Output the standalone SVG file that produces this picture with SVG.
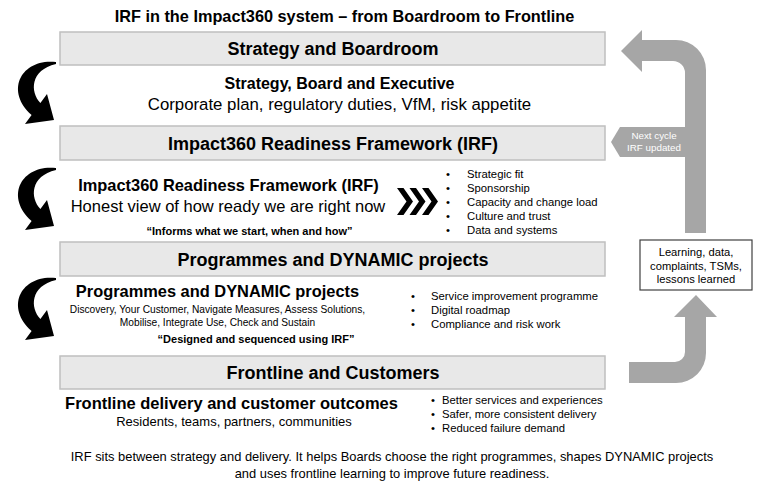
<svg xmlns="http://www.w3.org/2000/svg" width="768" height="492" viewBox="0 0 768 492">
<style>
text{font-family:"Liberation Sans",Arial,sans-serif;fill:#000}
.b{font-weight:bold}
.c{text-anchor:middle}
.bar{fill:#e8e8e8;stroke:#bfbfbf;stroke-width:1.5}
.bt{font-size:18px;font-weight:bold;text-anchor:middle}
.li{font-size:11.3px}
.gr{fill:#a6a6a6}
.blk{fill:#000}
</style>
<defs>
<path id="curl" d="M56,62 C22,58 4,90 31.6,115 L25,124 L54,120 L47,94 L40.4,103 C30,92 30,70 56,64 Z"/>
<polygon id="chev" points="0,188 6.5,188 16,201.5 6.5,215 0,215 9.5,201.5"/>
</defs>
<rect width="768" height="492" fill="#fff"/>
<text id="title" class="b c" x="344.5" y="22" font-size="16.3">IRF in the Impact360 system – from Boardroom to Frontline</text>

<g id="connectors">
<use href="#curl" class="blk"/>
<use href="#curl" class="blk" transform="translate(0,106)"/>
<use href="#curl" class="blk" transform="translate(0,216)"/>
<g id="chevrons" class="blk">
<use href="#chev" x="397"/>
<use href="#chev" x="409.5"/>
<use href="#chev" x="422"/>
</g>
<path id="loop-top" class="gr" d="M706,233 L706,70 A30,30 0 0 0 676,40 L642,40 L642,30 L621,51 L642,72 L642,61 L673,61 A12,12 0 0 1 685,73 L685,233 Z"/>
<path id="loop-bottom" class="gr" d="M629,362 L675,362 A10,10 0 0 0 685,352 L685,317 L674,317 L696,295 L717,317 L706,317 L706,353 A30,30 0 0 1 676,383 L629,383 Z"/>
</g>

<g id="strategy-bar">
<rect class="bar" x="60" y="32" width="545" height="33"/>
<text class="bt" x="333" y="55">Strategy and Boardroom</text>
</g>
<g id="strategy-detail">
<text class="b c" x="339.5" y="89" font-size="16">Strategy, Board and Executive</text>
<text class="c" x="339.5" y="110" font-size="16.8">Corporate plan, regulatory duties, VfM, risk appetite</text>
</g>

<g id="irf-bar">
<rect class="bar" x="60" y="126" width="545" height="34"/>
<text class="bt" x="333" y="149.5">Impact360 Readiness Framework (IRF)</text>
</g>
<g id="irf-detail">
<text class="b c" x="228.5" y="191" font-size="16.4">Impact360 Readiness Framework (IRF)</text>
<text class="c" x="228" y="212" font-size="16.5">Honest view of how ready we are right now</text>
<text class="b c" x="249.5" y="235" font-size="11">“Informs what we start, when and how”</text>
</g>
<g id="irf-list" class="li">
<text class="c" x="448" y="178">•</text><text x="467" y="178">Strategic fit</text>
<text class="c" x="448" y="192">•</text><text x="467" y="192">Sponsorship</text>
<text class="c" x="448" y="206">•</text><text x="467" y="206">Capacity and change load</text>
<text class="c" x="448" y="220">•</text><text x="467" y="220">Culture and trust</text>
<text class="c" x="448" y="234">•</text><text x="467" y="234">Data and systems</text>
</g>

<g id="programmes-bar">
<rect class="bar" x="60" y="242" width="545" height="34"/>
<text class="bt" x="333" y="265.5">Programmes and DYNAMIC projects</text>
</g>
<g id="programmes-detail">
<text class="b c" x="217.5" y="297" font-size="16.4">Programmes and DYNAMIC projects</text>
<text class="c" x="217.5" y="313" font-size="10.2">Discovery, Your Customer, Navigate Measures, Assess Solutions,</text>
<text class="c" x="217.5" y="326" font-size="10.2">Mobilise, Integrate Use, Check and Sustain</text>
<text class="b c" x="256" y="343" font-size="11">“Designed and sequenced using IRF”</text>
</g>
<g id="programmes-list" class="li">
<text class="c" x="413" y="300">•</text><text x="431" y="300">Service improvement programme</text>
<text class="c" x="413" y="314">•</text><text x="431" y="314">Digital roadmap</text>
<text class="c" x="413" y="328">•</text><text x="431" y="328">Compliance and risk work</text>
</g>

<g id="frontline-bar">
<rect class="bar" x="60" y="356" width="545" height="33"/>
<text class="bt" x="333" y="379">Frontline and Customers</text>
</g>
<g id="frontline-detail">
<text class="b c" x="231.5" y="409" font-size="16.5">Frontline delivery and customer outcomes</text>
<text class="c" x="234" y="426" font-size="13">Residents, teams, partners, communities</text>
</g>
<g id="frontline-list" class="li">
<text class="c" x="433" y="404">•</text><text x="442" y="404">Better services and experiences</text>
<text class="c" x="433" y="418">•</text><text x="442" y="418">Safer, more consistent delivery</text>
<text class="c" x="433" y="432">•</text><text x="442" y="432">Reduced failure demand</text>
</g>

<g id="next-cycle">
<polygon class="gr" points="611,142 620,127 686,127 686,157 620,157"/>
<text class="c" x="654" y="139" font-size="9.8" style="fill:#fff">Next cycle</text>
<text class="c" x="654" y="151" font-size="9.8" style="fill:#fff">IRF updated</text>
</g>

<g id="learning-box">
<rect x="640" y="240" width="112" height="50" fill="#fff" stroke="#404040" stroke-width="1.2"/>
<text class="c" x="696" y="256" font-size="11.2">Learning, data,</text>
<text class="c" x="696" y="269.5" font-size="11.2">complaints, TSMs,</text>
<text class="c" x="696" y="283" font-size="11.2">lessons learned</text>
</g>

<g id="footer">
<text class="c" x="392" y="461" font-size="12.9">IRF sits between strategy and delivery. It helps Boards choose the right programmes, shapes DYNAMIC projects</text>
<text class="c" x="392" y="478" font-size="12.9">and uses frontline learning to improve future readiness.</text>
</g>
</svg>
